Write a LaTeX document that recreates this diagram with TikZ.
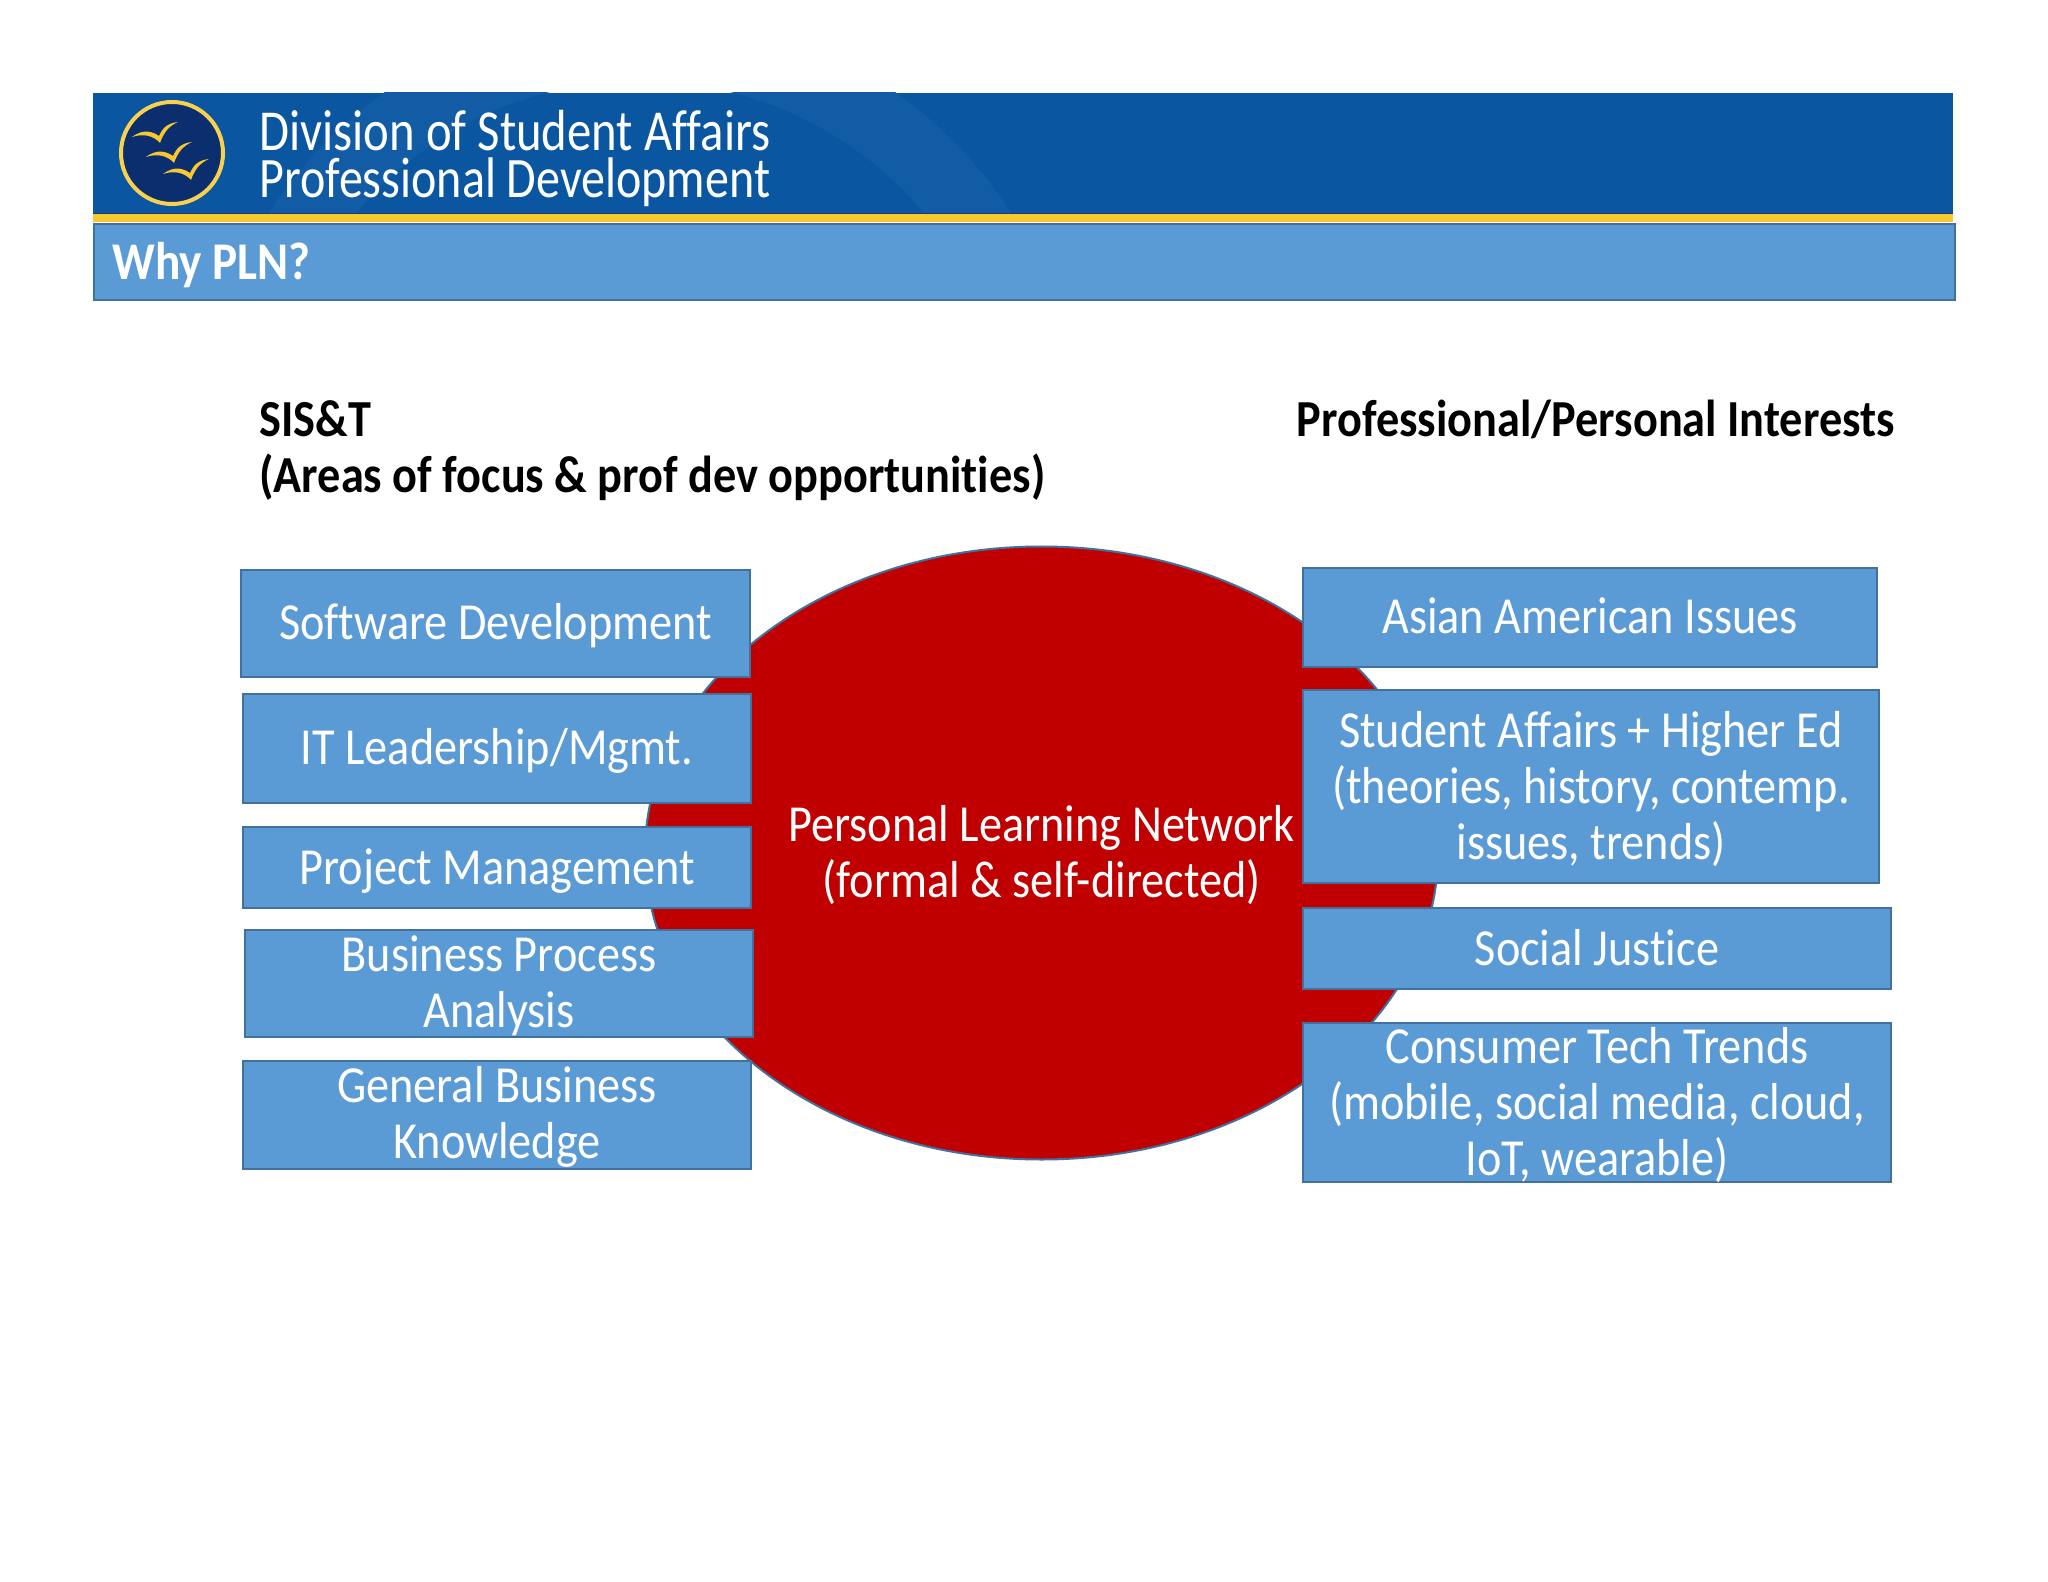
\documentclass[tikz,border=0pt]{standalone}
\usepackage{fontspec}
\usepackage{xcolor}
\usetikzlibrary{shapes.geometric}
\setmainfont{Carlito}
\newfontfamily\itemfont[FakeStretch=.89,Ligatures=NoCommon]{Carlito}
\newfontfamily\bannerfont[FakeStretch=.84,Ligatures=NoCommon]{Carlito}
\definecolor{bannerblue}{HTML}{0A56A0}
\definecolor{sealblue}{HTML}{115CA4}
\definecolor{bandblue}{HTML}{5B9BD5}
\definecolor{edgeblue}{HTML}{41719C}
\definecolor{crestblue}{HTML}{0B2F6E}
\definecolor{goldbar}{HTML}{F8C92F}
\definecolor{plnred}{HTML}{C00000}
\tikzset{
	itembox/.style={draw=edgeblue,fill=bandblue,line width=1pt,inner sep=0pt},
	itemtext/.style={text=white,align=center,inner sep=0pt,font=\itemfont\fontsize{26}{28}\selectfont},
	headline/.style={anchor=base west,inner sep=0pt,font=\itemfont\fontsize{26}{28}\selectfont\bfseries},
	bannertext/.style={anchor=base west,inner sep=0pt,text=white,align=left,font=\bannerfont\fontsize{29}{23.5}\selectfont}
}
%#1 name, #2 #3 left/right, #4 #5 top/bottom, #6 text drop, #7 text
\def\drawitem#1#2#3#4#5#6#7{
	\node[itembox,minimum width={(#3-#2)*.5pt},minimum height={(#5-#4)*.5pt}] (#1)
	at ({(#2+#3)/2},{(#4+#5)/2}) {};
	\node[itemtext] (#1text) at ([yshift=#6]#1.center) {#7};}
%#1 #2 the dip of the wing
\def\drawbird#1#2{
	\fill[goldbar,shift={(#1,#2)}] (-27,-3) .. controls (-15,-12) and (-6,-8) .. (0,-4)
	.. controls (3,-11) and (8,-17) .. (19,-18)
	.. controls (10,-14) and (5,-8) .. (1,3)
	.. controls (-5,-4) and (-15,-7) .. (-27,-3) -- cycle;}

\begin{document}
\begin{tikzpicture}[x=.5pt,y=-.5pt]
	\useasboundingbox (0,0) rectangle (2048,1582);
	%banner
	\fill[bannerblue] (93,93) rectangle (1953,214);
	\begin{scope}
		\clip (93,93) rectangle (1953,214);
		\fill[sealblue,even odd rule] (640,453) circle [radius=442] (640,453) circle [radius=372];
	\end{scope}
	\fill[goldbar] (93,214) rectangle (1953,222);
	\draw[draw=crestblue!60!bannerblue,line width=.5pt] (93,214) -- (1953,214);
	%logo
	\draw[draw=goldbar!85!white,fill=crestblue,line width=2pt] (172,153) circle [radius=51];
	\drawbird{159}{140}
	\drawbird{173}{160}
	\drawbird{190}{177}
	\node[bannertext] (division) at (259,197.5) {Division of Student Affairs\\{\fontsize{28.6}{23.5}\selectfont Professional Development}};
	%title band
	\draw[draw=edgeblue,fill=bandblue,line width=1pt] (94,224) rectangle (1955,300);
	\node[anchor=base west,inner sep=0pt,text=white,font=\itemfont\fontsize{26.5}{26}\selectfont\bfseries] (why) at (112,279.5) {Why PLN?};
	%column heads
	\node[headline] (sist) at (259,436.5) {SIS\&T};
	\node[headline] (areas) at (259,493) {(Areas of focus \& prof dev opportunities)};
	\node[headline] (interests) at (1296.5,436.5) {Professional/Personal Interests};
	%center
	\node[ellipse,draw=edgeblue,fill=plnred,line width=1pt,inner sep=0pt,
		minimum width=396.5pt,minimum height=306.5pt] (pln) at (1041.5,853) {};
	\node[itemtext] (plntext) at ([yshift=-1pt]pln.center) {Personal Learning Network\\(formal \& self-directed)};
	%left column
	\drawitem{software}{241}{750}{570}{677}{-1.2pt}{Software Development}
	\drawitem{leadership}{243}{751}{694}{803}{-1.2pt}{IT Leadership/Mgmt.}
	\drawitem{project}{243}{751}{827}{908}{-1.6pt}{Project Management}
	\drawitem{process}{245}{753}{930}{1037}{-1.2pt}{Business Process\\Analysis}
	\drawitem{business}{243}{751}{1061}{1169}{-1.2pt}{General Business\\Knowledge}
	%right column
	\drawitem{asian}{1303}{1877}{568}{667}{.6pt}{Asian American Issues}
	\drawitem{affairs}{1303}{1879}{690}{883}{-1.2pt}{Student Affairs + Higher Ed\\(theories, history, contemp.\\issues, trends)}
	\drawitem{justice}{1303}{1891}{908}{989}{.6pt}{Social Justice}
	\drawitem{consumer}{1303}{1891}{1023}{1182}{-1.2pt}{Consumer Tech Trends\\(mobile, social media, cloud,\\IoT, wearable)}
\end{tikzpicture}
\end{document}
